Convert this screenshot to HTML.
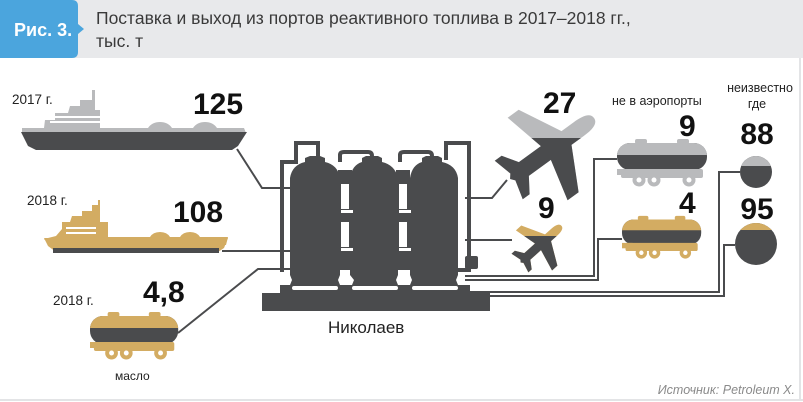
<!DOCTYPE html>
<html><head><meta charset="utf-8"><style>
html,body{margin:0;padding:0;background:#fff;}
svg{display:block;}
text{font-family:"Liberation Sans",sans-serif;}
</style></head><body>
<svg width="803" height="402" viewBox="0 0 803 402" xmlns="http://www.w3.org/2000/svg">
<defs>
  <clipPath id="tankTop"><rect x="-5" y="-5" width="100" height="22"/></clipPath>
  <g id="truck">
    <rect x="18" y="1" width="12" height="5" rx="2"/>
    <rect x="60" y="1" width="12" height="5" rx="2"/>
    <rect x="4" y="31" width="82" height="9" rx="2"/>
    <rect x="0" y="31" width="12" height="6"/>
  </g>
  <clipPath id="p1clip"><rect x="0" y="138" width="803" height="200"/></clipPath>
  <clipPath id="p2clip"><rect x="0" y="236" width="803" height="200"/></clipPath>
  <path id="plane" d="M64,0 C64,-8 54,-10 42,-10 L24,-10 L-2,-60 L-18,-60 L-6,-10 L-38,-10 L-50,-28 L-60,-28 L-54,-5 L-58,0 L-54,5 L-60,28 L-50,28 L-38,10 L-6,10 L-18,60 L-2,60 L24,10 L42,10 C54,10 64,8 64,0 Z"/>
</defs>

<!-- header -->
<rect x="0" y="0" width="803" height="58" fill="#e8e9eb"/>
<path d="M0,0 H72 Q78,0 78,6 V24 L84,29 L78,34 V52 Q78,58 72,58 H0 Z" fill="#4ba5dd"/>
<text x="14" y="36" font-size="18" font-weight="bold" fill="#fff">Рис. 3.</text>
<text x="96" y="24" font-size="17.5" fill="#3a3a3a">Поставка и выход из портов реактивного топлива в 2017–2018 гг.,</text>
<text x="96" y="47" font-size="17.5" fill="#3a3a3a">тыс. т</text>
<line x1="800" y1="58" x2="800" y2="400" stroke="#e3e4e6" stroke-width="2"/>
<line x1="0" y1="400" x2="803" y2="400" stroke="#e3e4e6" stroke-width="2"/>

<!-- connectors -->
<g fill="none" stroke="#4a4b4d" stroke-width="2">
  <polyline points="237,149 262,188 290,188"/>
  <polyline points="222,251 290,251"/>
  <polyline points="178,333 258,269 290,269"/>
  <polyline points="465,198 492,198 507,180"/>
  <polyline points="465,240 512,240"/>
  <polyline points="465,276 594,276 594,159 617,159"/>
  <polyline points="465,280 598,280 598,239 622,239"/>
  <polyline points="470,292 719,292 719,172 740,172"/>
  <polyline points="470,296 724,296 724,245 735,245"/>
</g>

<!-- ship 2017 -->
<g>
  <path d="M45,120 L55,120 L55,113 L68,113 L70,106 L80,106 L80,100 L92,100 L92,90 L95,90 L95,110 L100,110 L100,128 L148,128 Q152,122 160,122 Q168,122 172,128 L193,128 Q197,122 205,122 Q213,122 217,128 L244,128 L246,133 L22,133 L22,128 L44,128 Z" fill="#b9babc"/>
  <rect x="50" y="116" width="50" height="2" fill="#fff"/>
  <rect x="50" y="121" width="50" height="2" fill="#fff"/>
  <path d="M21,132 L247,132 L238,146 L232,150 L36,150 L28,146 Z" fill="#4a4b4d"/>
</g>
<text x="12" y="104" font-size="13.5" fill="#222">2017 г.</text>
<text x="193" y="114" font-size="30" font-weight="bold" fill="#111">125</text>

<!-- ship 2018 -->
<g>
  <path d="M62,229 L62,222 L70,222 L72,216 L82,216 L82,211 L92,211 L92,205 L98,205 L98,200 L100,200 L100,222 L108,222 L108,237 L150,237 Q153,232 160,232 Q167,232 170,237 L180,237 Q183,232 190,232 Q197,232 200,237 L228,237 L226,245 L50,245 L44,239 L56,236 Z" fill="#d3ac62"/>
  <rect x="66" y="227" width="30" height="2" fill="#fff"/>
  <rect x="66" y="232" width="30" height="2" fill="#fff"/>
  <path d="M44,238 L228,238 L224,248 L218,252 L56,252 L48,246 Z" fill="#d3ac62"/>
  <rect x="53" y="248" width="166" height="5" fill="#4a4b4d"/>
</g>
<text x="27" y="205" font-size="13.5" fill="#222">2018 г.</text>
<text x="173" y="222" font-size="30" font-weight="bold" fill="#111">108</text>

<!-- truck left (oil) -->
<g transform="translate(90,311) scale(0.98,1)">
  <rect x="0" y="5" width="90" height="28" rx="13" fill="#4a4b4d"/>
  <rect x="0" y="5" width="90" height="28" rx="13" fill="#d3ac62" clip-path="url(#tankTop)"/>
  <use href="#truck" fill="#d3ac62"/>
  <circle cx="22" cy="42" r="6.5" fill="#d3ac62"/><circle cx="22" cy="42" r="2.5" fill="#fff"/>
  <circle cx="37" cy="42" r="6.5" fill="#d3ac62"/><circle cx="37" cy="42" r="2.5" fill="#fff"/>
  <circle cx="72" cy="42" r="6.5" fill="#d3ac62"/><circle cx="72" cy="42" r="2.5" fill="#fff"/>
</g>
<text x="53" y="305" font-size="13.5" fill="#222">2018 г.</text>
<text x="143" y="302" font-size="30" font-weight="bold" fill="#111">4,8</text>
<text x="115" y="380" font-size="12" fill="#222">масло</text>

<!-- refinery -->
<g fill="#4a4b4d">
  <rect x="262" y="293" width="228" height="18"/>
  <g fill="none" stroke="#4a4b4d" stroke-width="4">
    <path d="M282,272 V162 H296 V143 H318 V160"/>
    <path d="M340,162 V155 Q340,152 344,152 H368 Q372,152 372,156 V162"/>
    <path d="M400,162 V155 Q400,152 404,152 H428 Q432,152 432,156 V162"/>
    <path d="M446,160 V143 H469 V270 H455"/>
  </g>
  <path d="M288,290 L292,280 L290,275 L290,178 Q292,165 305,162 L305,158 L310,156 L320,156 L325,158 L325,162 Q338,165 340,178 L340,275 L338,280 L342,290 Z"/>
  <path d="M350,290 L354,280 L350,275 L350,178 Q352,165 362,162 L362,158 L366,156 L378,156 L382,158 L382,162 Q395,165 398,178 L398,275 L396,280 L400,290 Z"/>
  <path d="M408,290 L412,280 L410,275 L410,178 Q412,165 422,162 L422,158 L426,156 L438,156 L442,158 L442,162 Q456,165 458,178 L458,275 L456,280 L460,290 Z"/>
  <rect x="280" y="285" width="190" height="10"/>
  <rect x="338" y="170" width="14" height="100"/>
  <rect x="396" y="170" width="14" height="100"/>
  <rect x="465" y="256" width="13" height="13" rx="2"/>
</g>
<g fill="#fff">
  <rect x="341" y="184" width="8" height="25"/><rect x="341" y="210" width="12" height="3"/>
  <rect x="341" y="222" width="8" height="25"/><rect x="341" y="248" width="12" height="3"/>
  <rect x="399" y="184" width="8" height="25"/><rect x="399" y="210" width="12" height="3"/>
  <rect x="399" y="222" width="8" height="25"/><rect x="399" y="248" width="12" height="3"/>
  <rect x="292" y="286" width="46" height="4" rx="2"/>
  <rect x="352" y="286" width="46" height="4" rx="2"/>
  <rect x="412" y="286" width="46" height="4" rx="2"/>
</g>
<text x="328" y="333" font-size="17" fill="#222">Николаев</text>

<!-- planes -->
<g transform="translate(550,150) rotate(-36) scale(0.85)">
  <use href="#plane" fill="#b9babc"/>
</g>
<g clip-path="url(#p1clip)"><g transform="translate(550,150) rotate(-36) scale(0.85)"><use href="#plane" fill="#4a4b4d"/></g></g>
<text x="543" y="113" font-size="30" font-weight="bold" fill="#111">27</text>

<g transform="translate(540,245) rotate(-42) scale(0.45)">
  <use href="#plane" fill="#d3ac62"/>
</g>
<g clip-path="url(#p2clip)"><g transform="translate(540,245) rotate(-42) scale(0.45)"><use href="#plane" fill="#4a4b4d"/></g></g>
<text x="538" y="218" font-size="30" font-weight="bold" fill="#111">9</text>

<!-- right trucks -->
<text x="612" y="105" font-size="12.5" fill="#222">не в аэропорты</text>
<text x="679" y="136" font-size="30" font-weight="bold" fill="#111">9</text>
<g transform="translate(617,138)">
  <rect x="0" y="5" width="90" height="27" rx="13" fill="#4a4b4d"/>
  <rect x="0" y="5" width="90" height="27" rx="13" fill="#b9babc" clip-path="url(#tankTop)"/>
  <use href="#truck" fill="#b9babc"/>
  <circle cx="22" cy="42" r="6.5" fill="#b9babc"/><circle cx="22" cy="42" r="2.5" fill="#fff"/>
  <circle cx="37" cy="42" r="6.5" fill="#b9babc"/><circle cx="37" cy="42" r="2.5" fill="#fff"/>
  <circle cx="72" cy="42" r="6.5" fill="#b9babc"/><circle cx="72" cy="42" r="2.5" fill="#fff"/>
</g>
<text x="679" y="213" font-size="30" font-weight="bold" fill="#111">4</text>
<g transform="translate(622,215) scale(0.88,0.9)">
  <rect x="0" y="5" width="90" height="28" rx="13" fill="#4a4b4d"/>
  <rect x="0" y="5" width="90" height="28" rx="13" fill="#d3ac62" clip-path="url(#tankTop)"/>
  <use href="#truck" fill="#d3ac62"/>
  <circle cx="22" cy="42" r="6.5" fill="#d3ac62"/><circle cx="22" cy="42" r="2.5" fill="#fff"/>
  <circle cx="37" cy="42" r="6.5" fill="#d3ac62"/><circle cx="37" cy="42" r="2.5" fill="#fff"/>
  <circle cx="72" cy="42" r="6.5" fill="#d3ac62"/><circle cx="72" cy="42" r="2.5" fill="#fff"/>
</g>

<!-- unknown circles -->
<text x="760" y="92" font-size="12.5" fill="#222" text-anchor="middle">неизвестно</text>
<text x="757" y="108" font-size="12.5" fill="#222" text-anchor="middle">где</text>
<text x="757" y="144" font-size="30" font-weight="bold" fill="#111" text-anchor="middle">88</text>
<clipPath id="c1"><circle cx="756" cy="172" r="16"/></clipPath>
<g clip-path="url(#c1)"><rect x="730" y="150" width="60" height="60" fill="#4a4b4d"/><rect x="730" y="150" width="60" height="16" fill="#b9babc"/></g>
<text x="757" y="219" font-size="30" font-weight="bold" fill="#111" text-anchor="middle">95</text>
<clipPath id="c2"><circle cx="756" cy="244" r="21"/></clipPath>
<g clip-path="url(#c2)"><rect x="730" y="220" width="60" height="60" fill="#4a4b4d"/><rect x="730" y="220" width="60" height="10" fill="#d3ac62"/></g>

<text x="795" y="394" font-size="12.5" font-style="italic" fill="#8a8a8a" text-anchor="end">Источник: Petroleum X.</text>
</svg>
</body></html>
